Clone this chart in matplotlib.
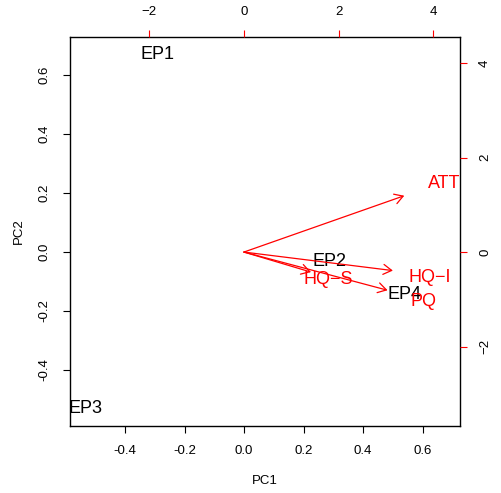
import matplotlib
matplotlib.use("Agg")
import matplotlib.pyplot as plt

plt.rcParams['font.family'] = ['Liberation Sans', 'DejaVu Sans']

# scores (bottom/left axes)
obs_labels = ['EP1', 'EP2', 'EP3', 'EP4']
obs_pc1 = [-0.292, 0.287, -0.534, 0.540]
obs_pc2 = [0.678, -0.027, -0.525, -0.139]

# loadings (top/right axes)
var_labels = ['ATT', 'HQ\u2212I', 'HQ\u2212S', 'PQ']
var_pc1 = [4.23, 3.93, 1.77, 3.79]
var_pc2 = [1.49, -0.49, -0.53, -1.01]

score_ticks = [-0.4, -0.2, 0.0, 0.2, 0.4, 0.6]
load_ticks = [-2, 0, 2, 4]

fig = plt.figure(figsize=(5.01, 4.93), dpi=100)
pos = [70 / 501, 67 / 493, 390 / 501, 389 / 493]
ax = fig.add_axes(pos)
ax.set_xlim(-0.585, 0.726)
ax.set_ylim(-0.590, 0.729)
for s in ax.spines.values():
    s.set_linewidth(1.0)
ax.set_xticks(score_ticks)
ax.set_yticks(score_ticks)
ax.set_xticklabels([f"{t:.1f}" for t in score_ticks])
ax.set_yticklabels([f"{t:.1f}" for t in score_ticks])
ax.tick_params(length=4.8, width=0.8, labelsize=9.5, pad=9)
plt.setp(ax.get_yticklabels(), rotation=90, va='center')
ax.set_xlabel('PC1', fontsize=9.5, labelpad=13)
ax.set_ylabel('PC2', fontsize=9.5, labelpad=10)

for lab, x, y in zip(obs_labels, obs_pc1, obs_pc2):
    ax.text(x, y, lab, fontsize=13, ha='center', va='center_baseline', color='black')

ax2 = fig.add_axes(pos, frameon=False)
ax2.set_xlim(-3.67, 4.56)
ax2.set_ylim(-3.68, 4.55)
ax2.xaxis.tick_top()
ax2.yaxis.tick_right()
ax2.set_xticks(load_ticks)
ax2.set_yticks(load_ticks)
ax2.tick_params(length=4.8, width=0.8, labelsize=9.5, pad=9, color='red')
plt.setp(ax2.get_yticklabels(), rotation=90, va='center')

for lab, x, y in zip(var_labels, var_pc1, var_pc2):
    ax2.annotate('', xy=(0.8 * x, 0.8 * y), xytext=(0, 0),
                 arrowprops=dict(arrowstyle='->,head_length=0.5,head_width=0.3',
                                 color='red', lw=0.9, shrinkA=0, shrinkB=0,
                                 mutation_scale=12))
    ax2.text(x, y, lab, fontsize=13, ha='center', va='center_baseline', color='red')

fig.savefig('out.png', dpi=100)
